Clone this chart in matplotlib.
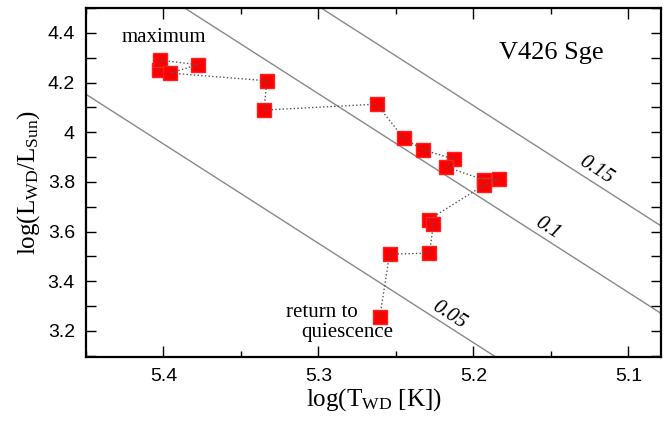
import numpy as np
import matplotlib
matplotlib.use('Agg')
import matplotlib.pyplot as plt
from matplotlib.ticker import MultipleLocator, FormatStrFormatter

serif = 'Liberation Serif'
sans = 'Liberation Sans'
plt.rcParams['mathtext.fontset'] = 'custom'
plt.rcParams['mathtext.rm'] = serif
plt.rcParams['mathtext.it'] = serif + ':italic'

# data (time order, maximum -> quiescence)
log_t = [5.403, 5.402, 5.378, 5.3955, 5.3333, 5.3352, 5.2625, 5.2449, 5.2324,
         5.2128, 5.2176, 5.1932, 5.1838, 5.1932, 5.2288, 5.2258, 5.2284,
         5.2541, 5.2604]
log_l = [4.250, 4.290, 4.272, 4.238, 4.207, 4.089, 4.113, 3.975, 3.929,
         3.892, 3.860, 3.808, 3.811, 3.787, 3.648, 3.631, 3.513,
         3.509, 3.258]

# constant radius lines (R in R_sun)
radii = [0.05, 0.1, 0.15]
radius_labels = ['0.05', '0.1', '0.15']
label_pos = [(5.2155, 3.265), (5.1524, 3.615), (5.1209, 3.849)]
log_tsun = np.log10(5772.0)

fig = plt.figure(figsize=(6.64, 4.21), dpi=100)
ax = fig.add_axes([86/664, 64/421, 575/664, 349/421])

ax.set_xlim(5.45, 5.079)
ax.set_ylim(3.095, 4.5)

tt = np.linspace(5.0, 5.5, 50)
for r in radii:
    ax.plot(tt, 2*np.log10(r) + 4*(tt - log_tsun), color='#888888', lw=1.0, zorder=1)

# angle of the radius lines on screen
p0 = ax.transData.transform((5.3, 4.0))
p1 = ax.transData.transform((5.2, 3.6))
ang = np.degrees(np.arctan2(p1[1]-p0[1], p1[0]-p0[0]))
for lab, (x, y) in zip(radius_labels, label_pos):
    ax.text(x, y, lab, rotation=ang, rotation_mode='anchor', ha='center', va='center',
            fontsize=15, family=serif, style='italic')

ax.plot(log_t, log_l, 's', color='#ff0000', mec='#ff2020', ms=9.5, zorder=2)
ax.plot(log_t, log_l, ':', color='#555555', lw=1.0, zorder=3)

ax.text(5.3995, 4.38, 'maximum', ha='center', va='center', fontsize=15, family=serif)
ax.text(5.2979, 3.273, 'return to', ha='center', va='center', fontsize=15, family=serif)
ax.text(5.2812, 3.193, 'quiescence', ha='center', va='center', fontsize=15, family=serif)
ax.text(5.150, 4.32, 'V426 Sge', ha='center', va='center', fontsize=19, family=serif)

ax.xaxis.set_major_locator(MultipleLocator(0.1))
ax.xaxis.set_minor_locator(MultipleLocator(0.05))
ax.yaxis.set_major_locator(MultipleLocator(0.2))
ax.yaxis.set_minor_locator(MultipleLocator(0.1))
ax.yaxis.set_major_formatter(FormatStrFormatter('%g'))
ax.xaxis.set_major_formatter(FormatStrFormatter('%g'))
ax.tick_params(which='both', direction='in', top=True, right=True, width=1.0,
               labelsize=14, pad=8)
ax.tick_params(axis='x', which='major', length=8)
ax.tick_params(axis='x', which='minor', length=4)
ax.tick_params(axis='y', which='both', length=7)
for lab in ax.get_xticklabels() + ax.get_yticklabels():
    lab.set_family(sans)
for s in ax.spines.values():
    s.set_linewidth(1.6)

ax.set_xlabel(r'log(T$_{\rm WD}$ [K])', fontsize=18, family=serif, labelpad=1)
ax.set_ylabel(r'log(L$_{\rm WD}$/L$_{\rm Sun}$)', fontsize=18, family=serif, labelpad=4)

fig.savefig('out.png', dpi=100)
